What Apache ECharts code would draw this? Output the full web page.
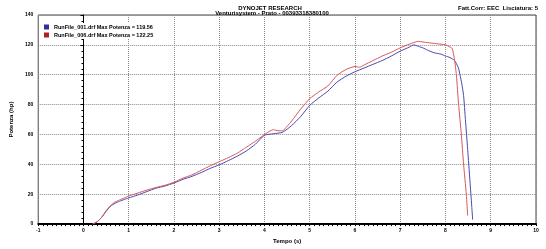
<!DOCTYPE html>
<html>
<head>
<meta charset="utf-8">
<script src="https://cdn.jsdelivr.net/npm/echarts@6/dist/echarts.min.js"></script>
<style>html,body{margin:0;padding:0;background:#fff;}#c{width:546px;height:249px;}</style>
</head>
<body>
<div id="c"></div>
<script>
var titleText = "DYNOJET RESEARCH";
var subText = "Venturisystem - Prato - 00393318380100";
var cornerText = "Fatt.Corr: EEC  Lisciatura: 5";
var seriesNames = ["RunFile_001.drf Max Potenza = 119.56", "RunFile_006.drf Max Potenza = 122.25"];
var xTicks = [-1, 0, 1, 2, 3, 4, 5, 6, 7, 8, 9, 10];
var yTicks = [0, 20, 40, 60, 80, 100, 120, 140];

var time001 = [0.2,0.3,0.4,0.5,0.6,0.7,0.8,0.9,1.0,1.2,1.4,1.6,1.8,2.0,2.2,2.4,2.6,2.8,3.0,3.2,3.4,3.6,3.8,4.0,4.2,4.4,4.6,4.8,5.0,5.2,5.4,5.6,5.8,6.0,6.2,6.4,6.6,6.8,7.0,7.2,7.3,7.4,7.5,7.6,7.75,7.9,8.0,8.1,8.2,8.28,8.32,8.36,8.40,8.44,8.49,8.54,8.58,8.6];
var power001 = [0,1.5,4.5,8.5,12,14,15.3,16.5,17.5,19.5,21.8,24,25.5,27.5,30,32,34.5,37.3,39.7,42.5,45.5,49,53.5,59.5,60.5,61.5,66,72,79.5,84.5,89,95,99,102,104.5,107,109.5,112.5,115.8,118.5,120,119,118,116.5,114.7,113.8,112.5,111.5,109.5,105,100,94,86,70,50,29,12,3];

var time006 = [0.2,0.3,0.4,0.5,0.6,0.7,0.8,0.9,1.0,1.2,1.4,1.6,1.8,2.0,2.2,2.4,2.6,2.8,3.0,3.2,3.4,3.6,3.8,4.0,4.1,4.2,4.3,4.4,4.5,4.6,4.8,5.0,5.2,5.4,5.6,5.8,6.0,6.1,6.2,6.4,6.6,6.8,7.0,7.2,7.4,7.6,7.8,8.0,8.1,8.15,8.2,8.24,8.29,8.35,8.40,8.46,8.49];
var power006 = [0,1.5,4.5,9,12.5,14.8,16.2,17.5,18.8,20.8,22.8,24.5,26,28,30.8,33,36,39,41.8,44.5,47.5,51.5,55.5,60,62,63.2,62.5,62.5,65.5,69,77,84,88.5,92.5,99.5,103.5,105.5,105,106.5,109.5,112.5,115,118,120.5,122.3,121.5,120.8,120,118.5,117.5,110,100,80,60,40,20,5.7];

function pairs(xs, ys){ var out=[]; for(var i=0;i<xs.length;i++) out.push([xs[i], ys[i]]); return out; }

var chart = echarts.init(document.getElementById('c'));
var lblFont = {fontFamily:'Liberation Sans', fontWeight:'bold', fontSize:6, color:'#000'};
chart.setOption({
  animation:false,
  backgroundColor:'#fff',
  title:[
    {text:titleText, left:265, top:0, textAlign:'center', textStyle:{fontFamily:'Liberation Sans', fontWeight:'bold', fontSize:6, color:'#000'}},
    {text:subText, left:267, top:5, textAlign:'center', textStyle:{fontFamily:'Liberation Sans', fontWeight:'bold', fontSize:6, color:'#000'}},
    {text:cornerText, right:3, top:0, textStyle:{fontFamily:'Liberation Sans', fontWeight:'bold', fontSize:6, color:'#000'}}
  ],
  legend:{
    orient:'vertical', left:43, top:23, itemWidth:5, itemHeight:5, itemGap:2, padding:1,
    backgroundColor:'#fff',
    icon:'rect',
    textStyle:{fontFamily:'Liberation Sans', fontWeight:'bold', fontSize:5.5, color:'#000'},
    data:seriesNames
  },
  grid:{left:20, right:10, top:15, bottom:13, show:true, borderColor:'#444', borderWidth:1},
  xAxis:{
    type:'value', min:xTicks[0], max:xTicks[xTicks.length-1], interval:1,
    name:'Tempo (s)', nameLocation:'middle', nameGap:6,
    nameTextStyle:lblFont,
    axisLine:{lineStyle:{color:'#000', width:2}, onZero:false},
    axisTick:{show:true, length:2, lineStyle:{color:'#000'}},
    minorTick:{show:true, splitNumber:10, length:2, lineStyle:{color:'#000'}},
    axisLabel:{fontFamily:'Liberation Sans', fontWeight:'bold', fontSize:5, color:'#000', margin:4},
    splitLine:{show:true, lineStyle:{color:'#888', type:[1,1], width:1}}
  },
  yAxis:{
    type:'value', min:yTicks[0], max:yTicks[yTicks.length-1], interval:20,
    name:'Potenza (hp)', nameLocation:'middle', nameGap:15, nameRotate:90,
    nameTextStyle:lblFont,
    axisLine:{show:true, lineStyle:{color:'#000', width:1}},
    axisTick:{show:true, length:3, lineStyle:{color:'#000'}},
    minorTick:{show:true, splitNumber:5, length:2, lineStyle:{color:'#000'}},
    axisLabel:{fontFamily:'Liberation Sans', fontWeight:'bold', fontSize:5, color:'#000', margin:5},
    splitLine:{show:true, lineStyle:{color:'#888', type:[1,1], width:1}}
  },
  series:[
    {name:seriesNames[0], type:'line', data:pairs(time001, power001), showSymbol:false, symbol:'none', smooth:0.2,
     lineStyle:{color:'#4848b0', width:1}, itemStyle:{color:'#3030a0'}},
    {name:seriesNames[1], type:'line', data:pairs(time006, power006), showSymbol:false, symbol:'none', smooth:0.2,
     lineStyle:{color:'#d85858', width:1}, itemStyle:{color:'#b02020'}}
  ]
});
</script>
</body>
</html>
